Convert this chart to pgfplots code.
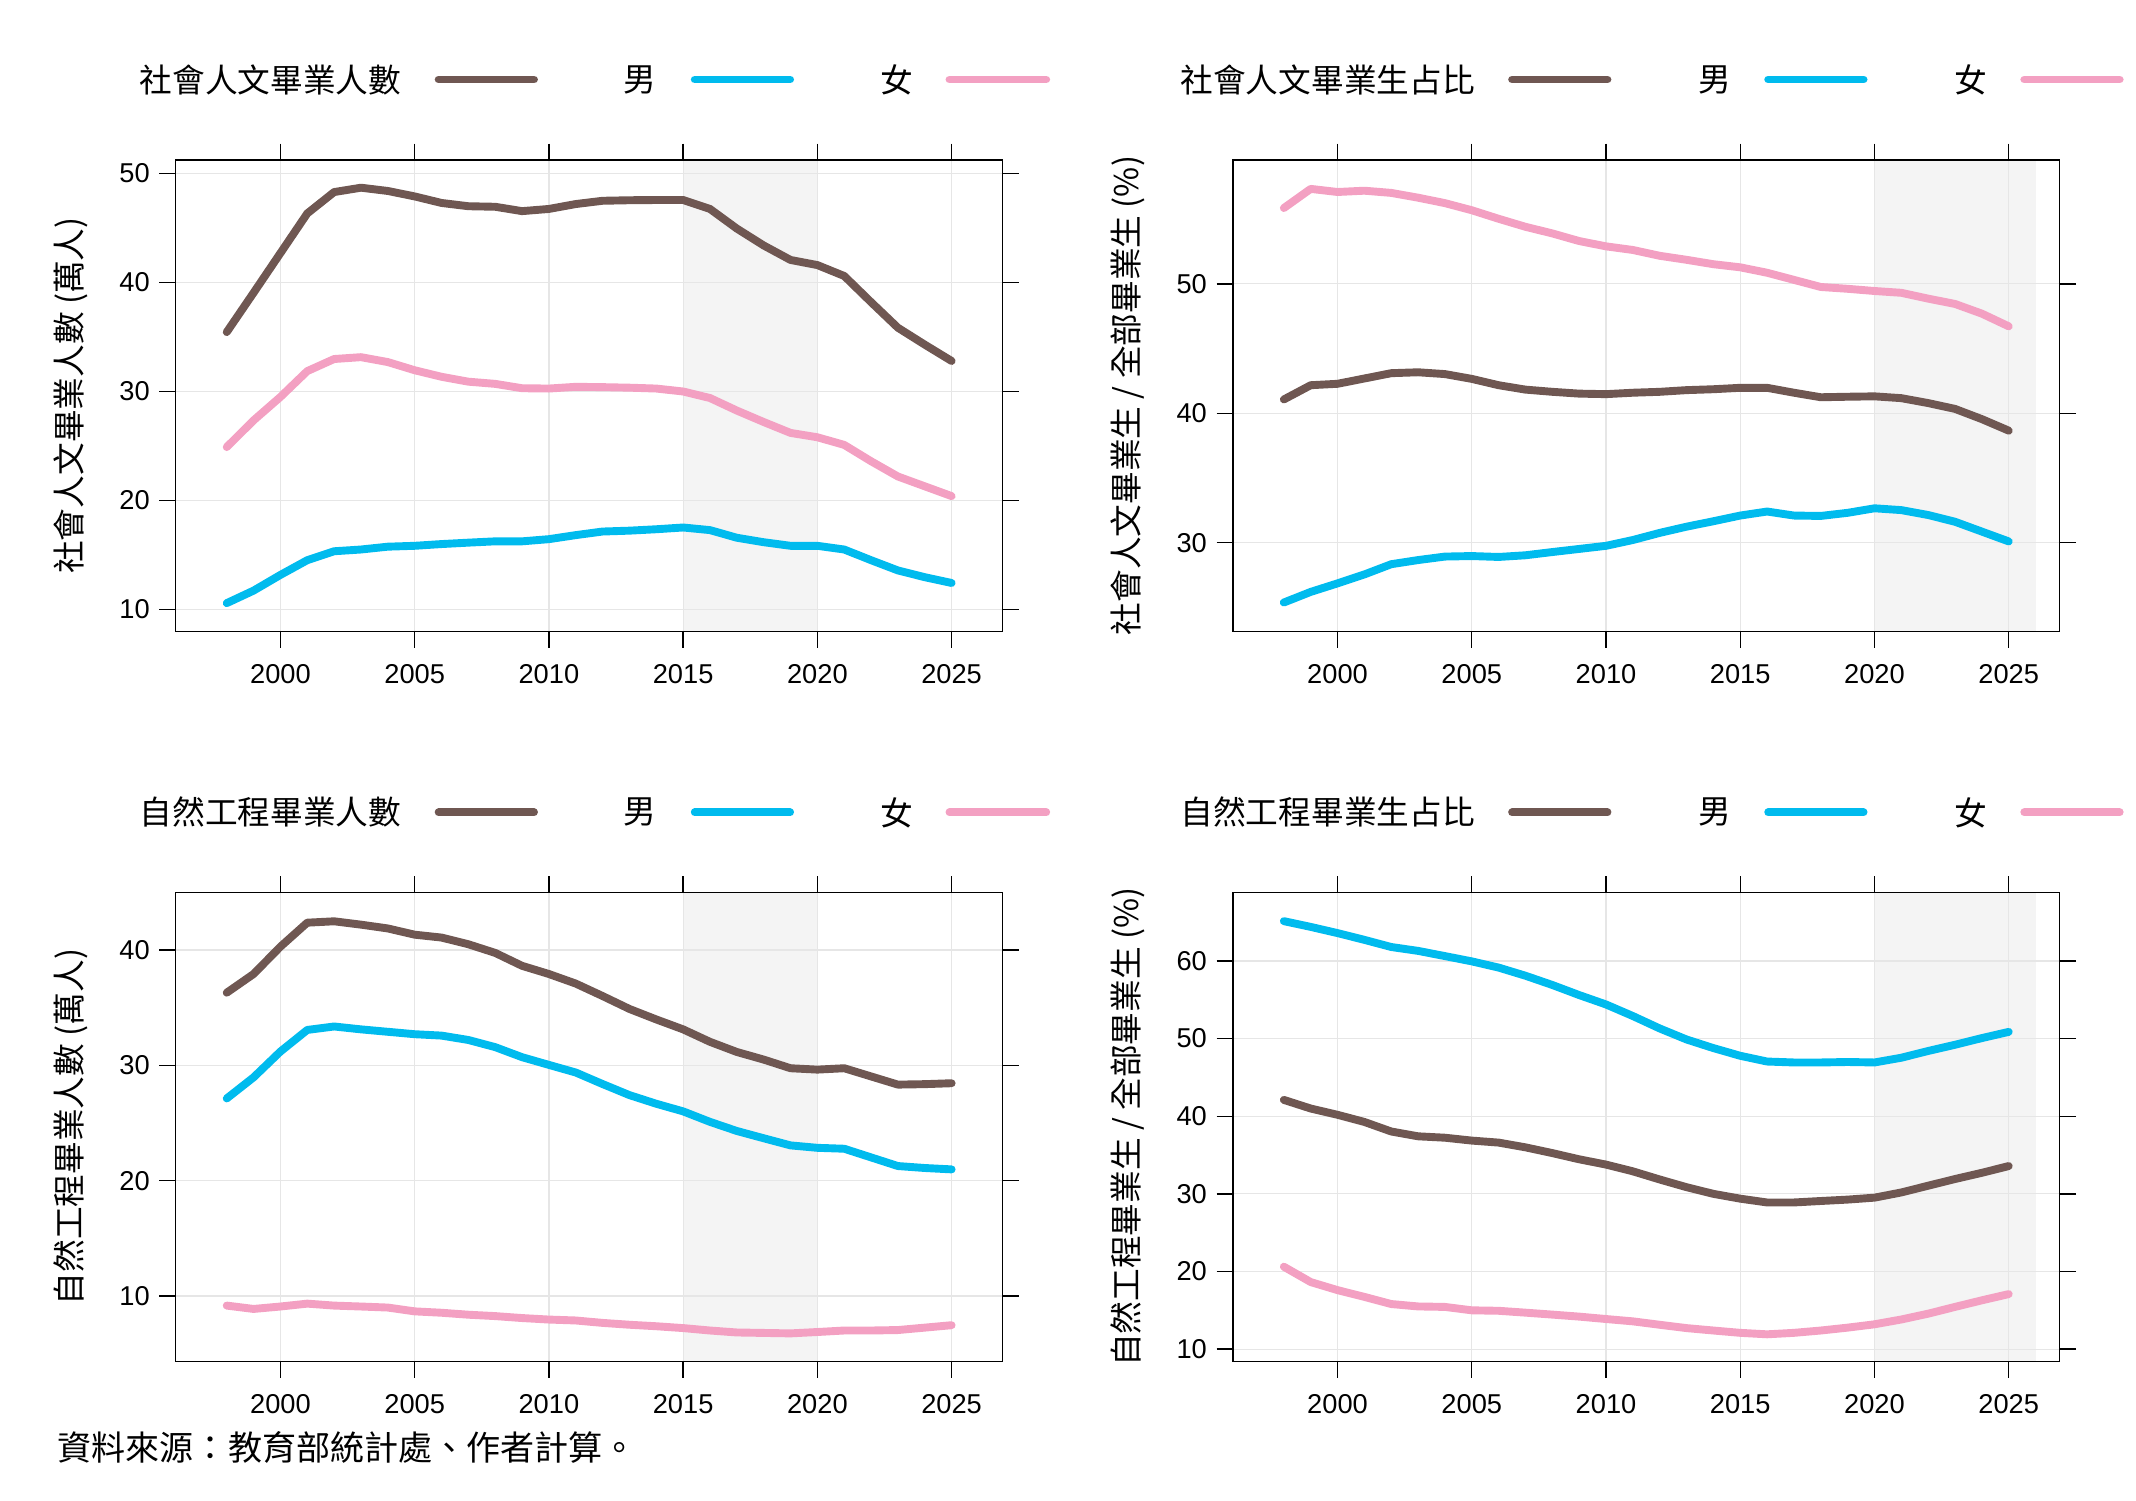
\documentclass[border=0pt]{standalone}
\usepackage{fontspec}
\setmainfont{Liberation Sans}
\newfontfamily\cjk{Noto Sans CJK TC}
\usepackage{pgfplots}
\pgfplotsset{compat=1.18}
\definecolor{cbrown}{RGB}{111,87,82}
\definecolor{cblue}{RGB}{0,187,238}
\definecolor{cpink}{RGB}{243,160,194}
\definecolor{cgrid}{RGB}{230,230,230}
\definecolor{cshade}{RGB}{244,244,244}

\pgfplotsset{
  lattice/.style={
    set layers,
    scale only axis,
    width=303.5pt,
    xmin=1996.1, xmax=2026.9,
    xtick={2000,2005,2010,2015,2020,2025},
    xticklabel style={/pgf/number format/1000 sep={}, yshift=-2.5pt},
    /pgf/number format/assume math mode=true,
    tick label style={font=\fontsize{10}{12}\selectfont},
    tick align=outside,
    xtick pos=both, ytick pos=both,
    xticklabel pos=lower, yticklabel pos=left,
    major tick length=6pt,
    every tick/.style={black, line width=0.5pt},
    axis line style={black, line width=0.5pt},
    grid=major,
    major grid style={cgrid, line width=0.45pt},
    every axis y label/.style={at={(axis description cs:0,0.5)}, anchor=center, xshift=-38.5pt, rotate=90, font=\cjk\fontsize{12}{14}\selectfont},
  },
  ser/.style={line width=2.9pt, line join=round, line cap=round, #1},
}

\begin{document}
\begin{tikzpicture}
\path (0,0) rectangle (784pt,550.9pt);

% ---------- Top left ----------
\begin{axis}[lattice, at={(64.5pt,319.2pt)}, anchor=south west, height=173pt,
  ymin=8, ymax=51.25, ytick={10,20,30,40,50},
  ylabel={社會人文畢業人數 (萬人)}]
\addplot[draw=none, fill=cshade, on layer=axis background] coordinates {(2015,8) (2020,8) (2020,51.25) (2015,51.25)};
\addplot[ser=cbrown] coordinates {
(1998,35.45)(1999,39.06)(2000,42.7)(2001,46.34)(2002,48.3)(2003,48.7)(2004,48.4)(2005,47.9)(2006,47.3)(2007,47.0)
(2008,46.95)(2009,46.55)(2010,46.75)(2011,47.2)(2012,47.5)(2013,47.55)(2014,47.57)(2015,47.57)(2016,46.75)(2017,44.95)
(2018,43.4)(2019,42.07)(2020,41.6)(2021,40.6)(2022,38.2)(2023,35.85)(2024,34.3)(2025,32.8)};
\addplot[ser=cblue] coordinates {
(1998,10.58)(1999,11.73)(2000,13.17)(2001,14.52)(2002,15.34)(2003,15.5)(2004,15.76)(2005,15.84)(2006,16.0)(2007,16.13)
(2008,16.25)(2009,16.25)(2010,16.45)(2011,16.82)(2012,17.15)(2013,17.23)(2014,17.36)(2015,17.52)(2016,17.28)(2017,16.58)
(2018,16.17)(2019,15.84)(2020,15.84)(2021,15.5)(2022,14.52)(2023,13.58)(2024,12.96)(2025,12.43)};
\addplot[ser=cpink] coordinates {
(1998,24.9)(1999,27.35)(2000,29.5)(2001,31.87)(2002,32.98)(2003,33.15)(2004,32.7)(2005,31.95)(2006,31.35)(2007,30.9)
(2008,30.7)(2009,30.3)(2010,30.27)(2011,30.43)(2012,30.4)(2013,30.35)(2014,30.27)(2015,30.0)(2016,29.4)(2017,28.25)
(2018,27.2)(2019,26.2)(2020,25.8)(2021,25.1)(2022,23.6)(2023,22.2)(2024,21.3)(2025,20.4)};
\end{axis}

% ---------- Top right ----------
\begin{axis}[lattice, at={(452.5pt,319.2pt)}, anchor=south west, height=173pt,
  ymin=23.16, ymax=59.58, ytick={30,40,50},
  ylabel={社會人文畢業生 / 全部畢業生 (\%)}]
\addplot[draw=none, fill=cshade, on layer=axis background] coordinates {(2020,23.16) (2026,23.16) (2026,59.58) (2020,59.58)};
\addplot[ser=cbrown] coordinates {
(1998,41.07)(1999,42.17)(2000,42.28)(2001,42.69)(2002,43.1)(2003,43.17)(2004,43.03)(2005,42.66)(2006,42.17)(2007,41.83)
(2008,41.66)(2009,41.52)(2010,41.48)(2011,41.59)(2012,41.66)(2013,41.79)(2014,41.86)(2015,41.97)(2016,41.97)(2017,41.59)
(2018,41.24)(2019,41.28)(2020,41.31)(2021,41.17)(2022,40.79)(2023,40.34)(2024,39.55)(2025,38.66)};
\addplot[ser=cblue] coordinates {
(1998,25.38)(1999,26.2)(2000,26.86)(2001,27.55)(2002,28.34)(2003,28.66)(2004,28.93)(2005,28.97)(2006,28.9)(2007,29.03)
(2008,29.28)(2009,29.52)(2010,29.76)(2011,30.21)(2012,30.76)(2013,31.24)(2014,31.66)(2015,32.1)(2016,32.41)(2017,32.1)
(2018,32.07)(2019,32.31)(2020,32.66)(2021,32.52)(2022,32.14)(2023,31.62)(2024,30.86)(2025,30.1)};
\addplot[ser=cpink] coordinates {
(1998,55.86)(1999,57.34)(2000,57.1)(2001,57.2)(2002,57.03)(2003,56.66)(2004,56.24)(2005,55.69)(2006,55.03)(2007,54.41)
(2008,53.9)(2009,53.31)(2010,52.9)(2011,52.62)(2012,52.17)(2013,51.86)(2014,51.52)(2015,51.28)(2016,50.86)(2017,50.31)
(2018,49.76)(2019,49.62)(2020,49.45)(2021,49.31)(2022,48.86)(2023,48.45)(2024,47.7)(2025,46.72)};
\end{axis}

% ---------- Bottom left ----------
\begin{axis}[lattice, at={(64.5pt,51.2pt)}, anchor=south west, height=172pt,
  ymin=4.33, ymax=44.96, ytick={10,20,30,40},
  ylabel={自然工程畢業人數 (萬人)}]
\addplot[draw=none, fill=cshade, on layer=axis background] coordinates {(2015,4.33) (2020,4.33) (2020,44.96) (2015,44.96)};
\addplot[ser=cbrown] coordinates {
(1998,36.3)(1999,37.92)(2000,40.29)(2001,42.37)(2002,42.49)(2003,42.2)(2004,41.87)(2005,41.33)(2006,41.08)(2007,40.5)
(2008,39.75)(2009,38.63)(2010,37.92)(2011,37.09)(2012,36.01)(2013,34.89)(2014,33.98)(2015,33.12)(2016,32.04)(2017,31.16)
(2018,30.5)(2019,29.75)(2020,29.63)(2021,29.75)(2022,29.04)(2023,28.33)(2024,28.37)(2025,28.45)};
\addplot[ser=cblue] coordinates {
(1998,27.13)(1999,28.96)(2000,31.2)(2001,33.07)(2002,33.37)(2003,33.12)(2004,32.91)(2005,32.7)(2006,32.58)(2007,32.2)
(2008,31.58)(2009,30.71)(2010,30.04)(2011,29.38)(2012,28.38)(2013,27.42)(2014,26.67)(2015,26.01)(2016,25.1)(2017,24.31)
(2018,23.68)(2019,23.06)(2020,22.85)(2021,22.77)(2022,22.02)(2023,21.27)(2024,21.1)(2025,20.98)};
\addplot[ser=cpink] coordinates {
(1998,9.17)(1999,8.88)(2000,9.09)(2001,9.34)(2002,9.17)(2003,9.09)(2004,9.0)(2005,8.67)(2006,8.55)(2007,8.38)
(2008,8.26)(2009,8.09)(2010,7.96)(2011,7.88)(2012,7.67)(2013,7.51)(2014,7.38)(2015,7.22)(2016,7.01)(2017,6.84)
(2018,6.8)(2019,6.76)(2020,6.88)(2021,7.01)(2022,7.01)(2023,7.05)(2024,7.26)(2025,7.47)};
\end{axis}

% ---------- Bottom right ----------
\begin{axis}[lattice, at={(452.5pt,51.2pt)}, anchor=south west, height=172pt,
  ymin=8.42, ymax=68.77, ytick={10,20,30,40,50,60},
  ylabel={自然工程畢業生 / 全部畢業生 (\%)}]
\addplot[draw=none, fill=cshade, on layer=axis background] coordinates {(2020,8.42) (2026,8.42) (2026,68.77) (2020,68.77)};
\addplot[ser=cbrown] coordinates {
(1998,42.1)(1999,40.99)(2000,40.18)(2001,39.26)(2002,38.03)(2003,37.41)(2004,37.23)(2005,36.86)(2006,36.6)(2007,35.99)
(2008,35.25)(2009,34.45)(2010,33.77)(2011,32.9)(2012,31.85)(2013,30.86)(2014,30.0)(2015,29.38)(2016,28.89)(2017,28.89)
(2018,29.08)(2019,29.26)(2020,29.51)(2021,30.18)(2022,31.05)(2023,31.91)(2024,32.71)(2025,33.58)};
\addplot[ser=cblue] coordinates {
(1998,65.12)(1999,64.38)(2000,63.58)(2001,62.71)(2002,61.79)(2003,61.29)(2004,60.62)(2005,59.94)(2006,59.14)(2007,58.09)
(2008,56.9)(2009,55.6)(2010,54.39)(2011,52.9)(2012,51.3)(2013,49.88)(2014,48.77)(2015,47.78)(2016,47.04)(2017,46.92)
(2018,46.92)(2019,46.98)(2020,46.92)(2021,47.53)(2022,48.4)(2023,49.2)(2024,50.06)(2025,50.86)};
\addplot[ser=cpink] coordinates {
(1998,20.62)(1999,18.64)(2000,17.6)(2001,16.73)(2002,15.81)(2003,15.5)(2004,15.44)(2005,15.0)(2006,14.94)(2007,14.7)
(2008,14.45)(2009,14.19)(2010,13.88)(2011,13.58)(2012,13.14)(2013,12.71)(2014,12.4)(2015,12.1)(2016,11.91)(2017,12.1)
(2018,12.4)(2019,12.77)(2020,13.2)(2021,13.82)(2022,14.57)(2023,15.44)(2024,16.29)(2025,17.09)};
\end{axis}

% ---------- Legends ----------
\begin{scope}[font=\cjk\fontsize{12}{14}\selectfont]
\foreach \yy/\txtA/\txtB in {521.7pt/社會人文畢業人數/社會人文畢業生占比, 252.7pt/自然工程畢業人數/自然工程畢業生占比}{
  \node[anchor=east, inner sep=0pt] at (147.5pt,\yy) {\txtA};
  \draw[cbrown, line width=2.9pt, line cap=round] (161pt,\yy) -- (196pt,\yy);
  \node[inner sep=0pt] at (235pt,\yy) {男};
  \draw[cblue, line width=2.9pt, line cap=round] (255pt,\yy) -- (290pt,\yy);
  \node[inner sep=0pt] at (329pt,\yy) {女};
  \draw[cpink, line width=2.9pt, line cap=round] (348.5pt,\yy) -- (384pt,\yy);
  \node[anchor=east, inner sep=0pt] at (541.5pt,\yy) {\txtB};
  \draw[cbrown, line width=2.9pt, line cap=round] (555pt,\yy) -- (590pt,\yy);
  \node[inner sep=0pt] at (629.5pt,\yy) {男};
  \draw[cblue, line width=2.9pt, line cap=round] (649pt,\yy) -- (684pt,\yy);
  \node[inner sep=0pt] at (723.5pt,\yy) {女};
  \draw[cpink, line width=2.9pt, line cap=round] (743pt,\yy) -- (778pt,\yy);
}
\node[anchor=west, inner sep=0pt, font=\cjk\fontsize{12.5}{14}\selectfont] at (21pt,19.7pt) {資料來源：教育部統計處、作者計算。};
\end{scope}
\end{tikzpicture}
\end{document}
